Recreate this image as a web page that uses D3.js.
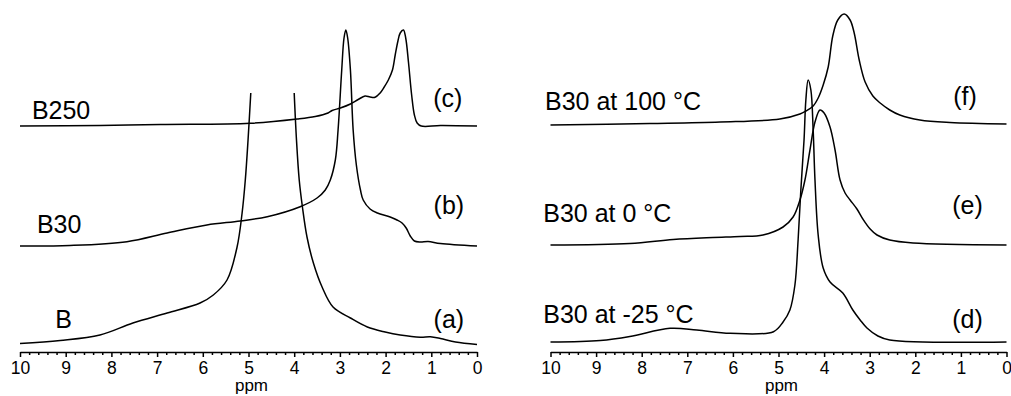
<!DOCTYPE html>
<html>
<head>
<meta charset="utf-8">
<script src="https://d3js.org/d3.v7.min.js"></script>
<style>
  body { margin: 0; background: #fff; }
  text { font-family: "Liberation Sans", Arial, sans-serif; fill: #000; }
</style>
</head>
<body>
<div id="chart"></div>
<script>
// spectra, [ppm, intensity] (arbitrary units, own baseline = 0)
var specB = [
  [10.00, 0.05], [9.12, 0.35], [8.25, 0.9], [7.53, 2.1], [6.78, 3.1], [6.06, 4.1],
  [5.77, 4.9], [5.47, 6.4], [5.25, 9.7], [5.14, 13.1], [5.07, 16.4], [5.01, 20.4],
  [4.95, 25.1], null,
  [4.00, 25.1], [3.95, 20.4], [3.89, 16.4], [3.82, 13.7], [3.72, 10.7], [3.58, 8.1],
  [3.39, 5.7], [3.15, 3.7], [2.77, 2.6], [2.40, 1.7], [2.01, 1.2], [1.68, 0.9],
  [1.24, 0.68], [1.02, 0.72], [0.80, 0.55], [0.47, 0.2], [0.00, -0.05]
];
var specB30 = [
  [10.00, 0], [8.91, 0.05], [7.66, 0.43], [6.78, 1.3], [5.91, 2.1], [5.18, 2.5],
  [4.59, 2.93], [3.87, 3.93], [3.50, 4.8], [3.32, 5.6], [3.21, 6.6], [3.10, 8.6],
  [3.04, 11.6], [2.96, 17.6], [2.91, 20.8], [2.87, 21.6], [2.83, 20.8], [2.77, 17.6],
  [2.71, 11.6], [2.64, 8.1], [2.55, 5.6], [2.49, 4.6], [2.34, 3.7], [2.18, 3.3],
  [1.90, 2.9], [1.75, 2.6], [1.64, 2.3], [1.55, 1.8], [1.46, 1.0], [1.37, 0.5],
  [1.24, 0.4], [1.07, 0.45], [0.80, 0.25], [0.00, 0]
];
var specB250 = [
  [10.00, 0], [8.25, 0.05], [6.93, 0.15], [4.96, 0.27], [3.93, 0.7], [3.54, 0.95],
  [3.26, 1.3], [3.17, 1.55], [2.99, 1.8], [2.77, 2.2], [2.60, 2.65], [2.45, 3.0],
  [2.34, 2.9], [2.23, 2.87], [2.12, 3.3], [2.03, 3.9], [1.94, 4.6], [1.85, 5.6],
  [1.79, 7.1], [1.73, 8.5], [1.68, 9.3], [1.61, 9.6], [1.56, 8.8], [1.50, 6.4],
  [1.43, 3.1], [1.37, 1.1], [1.31, 0.3], [1.22, 0], [0.80, 0.05], [0.00, 0]
];
var specM25 = [
  [10.00, 0], [8.91, 0.15], [8.26, 0.55], [7.38, 1.37], [6.79, 1.2], [6.06, 0.87],
  [5.11, 1.03], [4.90, 2.0], [4.75, 3.2], [4.64, 5.7], [4.57, 10.2], [4.51, 15.2],
  [4.44, 20.2], [4.40, 24.2], [4.35, 26.2], [4.29, 25.2], [4.24, 21.2], [4.20, 16.2],
  [4.13, 10.7], [4.02, 7.4], [3.87, 6.0], [3.59, 4.9], [3.37, 3.2], [3.21, 2.2],
  [3.06, 1.4], [2.82, 0.6], [2.56, 0.2], [0.00, 0]
];
var spec0 = [
  [10.00, 0], [8.26, 0.15], [7.31, 0.55], [6.44, 0.75], [5.84, 0.85], [5.34, 1.0],
  [4.90, 1.8], [4.68, 2.8], [4.53, 4.5], [4.42, 6.5], [4.31, 9.5], [4.20, 12.3],
  [4.09, 13.5], [4.00, 13.2], [3.87, 11.8], [3.76, 9.5], [3.65, 6.5], [3.54, 5.2],
  [3.43, 4.5], [3.28, 3.6], [3.15, 2.6], [2.99, 1.6], [2.84, 1.0], [2.56, 0.5],
  [2.05, 0.2], [0.00, 0]
];
var spec100 = [
  [10.00, 0], [7.82, 0.15], [6.28, 0.3], [4.97, 0.6], [4.53, 1.1], [4.40, 1.4],
  [4.24, 1.9], [4.13, 2.7], [4.02, 4.0], [3.91, 5.8], [3.81, 8.9], [3.70, 10.5],
  [3.56, 11.1], [3.43, 10.5], [3.34, 9.2], [3.23, 6.5], [3.10, 4.3], [2.93, 2.9],
  [2.77, 2.2], [2.56, 1.5], [2.34, 1.0], [1.90, 0.5], [1.24, 0.25], [0.00, 0.1]
];

var offsetsLeft = [0, 9.8, 21.8];
var offsetsRight = [0.2, 9.9, 21.9];
var namesLeft = ["B", "B30", "B250"];
var namesRight = ["B30 at -25 °C", "B30 at 0 °C", "B30 at 100 °C"];
var tagsLeft = ["(a)", "(b)", "(c)"];
var tagsRight = ["(d)", "(e)", "(f)"];
var majorTicks = [10, 9, 8, 7, 6, 5, 4, 3, 2, 1, 0];
var minorTicks = d3.range(0, 50).map(function(i) { return i / 5; }).filter(function(v) { return v % 1 !== 0; });

var width = 1011,
    height = 396,
    axisY = 352;

var svg = d3.select("#chart")
    .append("svg")
    .attr("width", width)
    .attr("height", height);

var y = d3.scaleLinear().domain([0, 33]).range([344, 14]);

// name label spots (ppm, level) and tag spots, per panel
var panels = [
  { x0: 20, x1: 477, specs: [specB, specB30, specB250], offsets: offsetsLeft,
    names: namesLeft, tags: tagsLeft,
    namePos: [[9.23, 1.57], [9.63, 11.07], [9.74, 22.47]],
    tagPos: [[0.95, 1.6], [0.95, 13.0], [0.96, 23.75]] },
  { x0: 550.5, x1: 1006.5, specs: [specM25, spec0, spec100], offsets: offsetsRight,
    names: namesRight, tags: tagsRight,
    namePos: [[10.16, 2.1], [10.16, 12.23], [10.12, 23.4]],
    tagPos: [[1.19, 1.6], [1.19, 13.0], [1.17, 23.9]] }
];

panels.forEach(function(p) {
    var x = d3.scaleLinear().domain([10, 0]).range([p.x0, p.x1]);
    var g = svg.append("g");

    p.specs.forEach(function(spec, i) {
        var line = d3.line()
            .defined(function(d) { return d !== null; })
            .x(function(d) { return x(d[0]); })
            .y(function(d) { return y(d[1] + p.offsets[i]); })
            .curve(d3.curveCatmullRom.alpha(0.5));

        g.append("path")
            .datum(spec)
            .attr("d", line)
            .attr("fill", "none")
            .attr("stroke", "#000")
            .attr("stroke-width", 1.5)
            .attr("stroke-linejoin", "round");

        g.append("text")
            .attr("x", x(p.namePos[i][0]))
            .attr("y", y(p.namePos[i][1]))
            .style("font-size", "25px")
            .text(p.names[i]);

        g.append("text")
            .attr("x", x(p.tagPos[i][0]))
            .attr("y", y(p.tagPos[i][1]))
            .style("font-size", "25px")
            .text(p.tags[i]);
    });

    var minor = g.append("g")
        .attr("transform", "translate(0," + axisY + ")")
        .call(d3.axisBottom(x).tickValues(minorTicks).tickSize(3).tickSizeOuter(0).tickFormat(""));
    minor.select(".domain").remove();

    var major = g.append("g")
        .attr("transform", "translate(0," + axisY + ")")
        .call(d3.axisBottom(x).tickValues(majorTicks).tickSize(5).tickSizeOuter(0).tickPadding(5).tickFormat(d3.format("d")));

    g.selectAll(".tick line, .domain").attr("stroke", "#000").attr("stroke-width", 1.5);
    major.selectAll("text")
        .style("font-size", "17.5px")
        .attr("font-family", null);

    g.append("text")
        .attr("x", (p.x0 + p.x1) / 2 + 3)
        .attr("y", 391)
        .attr("text-anchor", "middle")
        .style("font-size", "17px")
        .text("ppm");
});
</script>
</body>
</html>
